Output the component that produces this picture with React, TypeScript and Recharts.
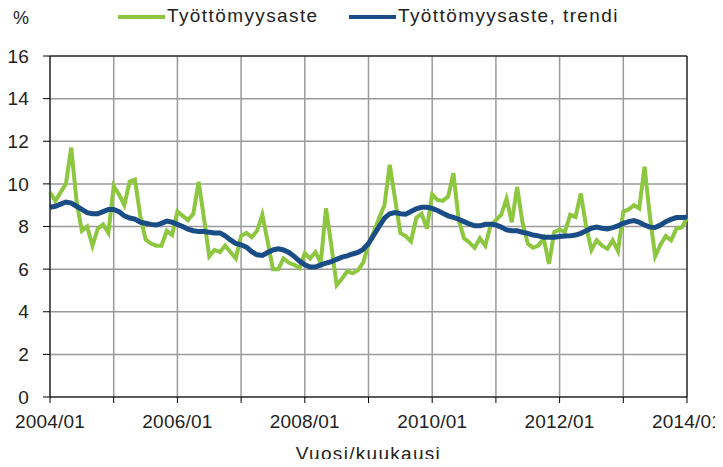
import { CartesianGrid, Line, LineChart, ReferenceLine, XAxis, YAxis } from "recharts";

// unemployment rate, monthly 2004/01 .. 2014/01
const years = [2004, 2005, 2006, 2007, 2008, 2009, 2010, 2011, 2012, 2013, 2014];

const rate = [
  9.6, 9.2, 9.6, 10.0, 11.7, 9.2, 7.8, 8.0, 7.1, 7.9, 8.1, 7.7,
  9.9, 9.5, 9.0, 10.1, 10.2, 8.5, 7.4, 7.2, 7.1, 7.1, 7.8, 7.6,
  8.7, 8.5, 8.3, 8.6, 10.1, 8.4, 6.6, 6.9, 6.8, 7.1, 6.8, 6.5,
  7.55, 7.7, 7.5, 7.8, 8.55, 7.3, 6.0, 6.0, 6.5, 6.3, 6.2, 6.05,
  6.75, 6.5, 6.8, 6.3, 8.85, 7.1, 5.25, 5.55, 5.9, 5.8, 5.95, 6.3,
  7.15, 7.75, 8.4, 9.0, 10.9, 9.3, 7.7, 7.55, 7.3, 8.4, 8.6, 7.9,
  9.5, 9.25, 9.2, 9.4, 10.5, 8.3, 7.45, 7.25, 7.0, 7.45, 7.1, 8.05,
  8.3, 8.55, 9.3, 8.2, 9.85, 8.2, 7.2, 7.0, 7.1, 7.45, 6.25, 7.75,
  7.85, 7.75, 8.55, 8.45, 9.55, 8.0, 6.9, 7.35, 7.1, 6.95, 7.35, 6.85,
  8.7, 8.8, 9.0, 8.85, 10.8, 8.5, 6.6, 7.15, 7.55, 7.35, 7.9, 7.95,
  8.4,
];

const trend = [
  8.9, 8.95, 9.05, 9.15, 9.1, 8.95, 8.8, 8.65, 8.6, 8.6, 8.7, 8.8,
  8.8, 8.7, 8.5, 8.4, 8.35, 8.2, 8.15, 8.1, 8.07, 8.15, 8.25, 8.2,
  8.1, 8.0, 7.87, 7.8, 7.76, 7.76, 7.73, 7.7, 7.7, 7.56, 7.37, 7.2,
  7.14, 7.03, 6.82, 6.67, 6.64, 6.78, 6.9, 6.95, 6.9, 6.78, 6.6, 6.38,
  6.2, 6.1, 6.1, 6.2, 6.28, 6.35, 6.46, 6.56, 6.62, 6.71, 6.78, 6.93,
  7.2, 7.6, 8.0, 8.39, 8.6, 8.65, 8.6, 8.58, 8.7, 8.83, 8.9, 8.9,
  8.85, 8.75, 8.62, 8.5, 8.43, 8.34, 8.23, 8.12, 8.03, 8.03, 8.1, 8.1,
  8.07, 7.97, 7.84, 7.8, 7.8, 7.73, 7.68, 7.6, 7.56, 7.5, 7.5, 7.5,
  7.53, 7.55, 7.56, 7.6, 7.68, 7.8, 7.92, 7.97, 7.92, 7.89, 7.95, 8.03,
  8.15, 8.23, 8.28, 8.2, 8.07, 7.97, 7.95, 8.07, 8.23, 8.34, 8.42, 8.42,
  8.43,
];

const yTicks = [0, 2, 4, 6, 8, 10, 12, 14, 16];

const months = years.flatMap((y) =>
  Array.from({ length: 12 }, (_, m) => `${y}/${String(m + 1).padStart(2, "0")}`)
).slice(0, rate.length);

const data = months.map((label, t) => ({ t, label, rate: rate[t], trend: trend[t] }));
const yearTicks = years.map((_, i) => i * 12);

const GREEN = "#8dc63f";
const BLUE = "#1a4d85";
const FONT = "'Liberation Sans', Arial, sans-serif";

export default function App() {
  const tickStyle = { fontSize: 19, fill: "#222", fontFamily: FONT, letterSpacing: 0.2 };

  return (
    <div style={{ position: "relative", width: 723, height: 467, margin: -8, background: "#fff", fontFamily: FONT }}>
      <div style={{ position: "absolute", left: 13, top: 8, fontSize: 18, color: "#222" }}>%</div>
      <div style={{ position: "absolute", left: 118, top: 15, width: 47, height: 4, background: GREEN }} />
      <div style={{ position: "absolute", left: 167, top: 5, fontSize: 19, letterSpacing: 1.4, color: "#222" }}>
        Työttömyysaste
      </div>
      <div style={{ position: "absolute", left: 349, top: 15, width: 47, height: 4, background: BLUE }} />
      <div style={{ position: "absolute", left: 398, top: 5, fontSize: 19, letterSpacing: 1.4, color: "#222" }}>
        Työttömyysaste, trendi
      </div>

      <LineChart width={723} height={467} data={data} margin={{ top: 56, right: 36, bottom: 0, left: 0 }}>
        <CartesianGrid stroke="#9a9a9a" strokeWidth={1.5} />
        <XAxis
          dataKey="t"
          type="number"
          domain={[0, 120]}
          ticks={yearTicks}
          tickFormatter={(v: number) => (v % 24 === 0 ? months[v] ?? `${years[v / 12]}/01` : "")}
          tick={tickStyle}
          tickSize={6}
          tickMargin={12}
          height={70}
          stroke="#000"
          label={{ value: "Vuosi/kuukausi", position: "insideBottom", offset: 7, style: { ...tickStyle, letterSpacing: 1.3 } }}
        />
        <YAxis
          domain={[0, 16]}
          ticks={yTicks}
          tick={tickStyle}
          tickSize={7}
          tickMargin={14}
          width={50}
          stroke="#000"
        />
        <ReferenceLine y={16} stroke="#000" />
        <ReferenceLine x={120} stroke="#000" />
        <Line type="linear" dataKey="rate" stroke={GREEN} strokeWidth={4} dot={false} isAnimationActive={false} />
        <Line type="linear" dataKey="trend" stroke={BLUE} strokeWidth={5} dot={false} isAnimationActive={false} />
      </LineChart>
    </div>
  );
}
